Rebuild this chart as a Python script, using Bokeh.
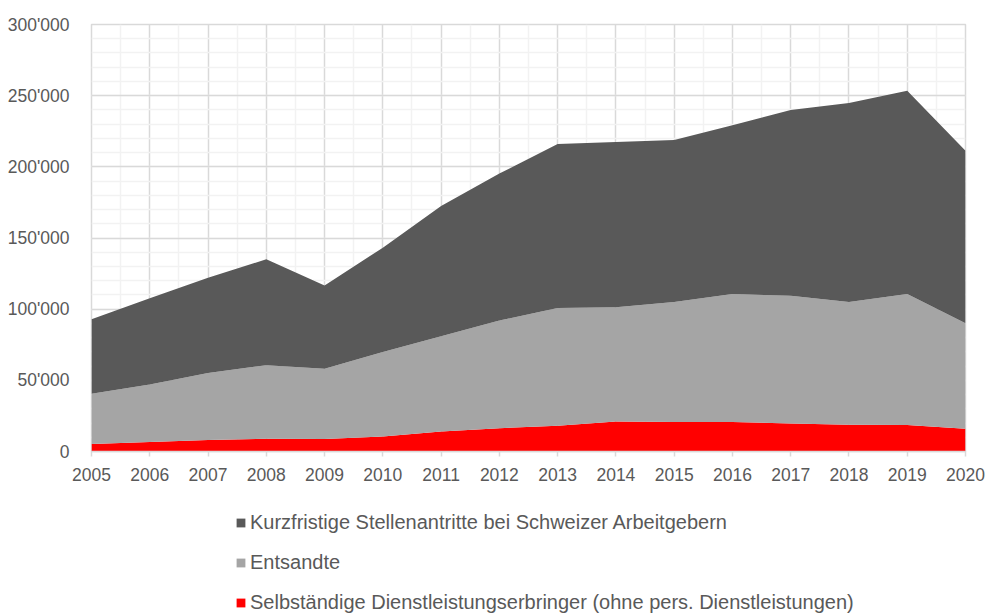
from bokeh.plotting import figure
from bokeh.layouts import column
from bokeh.models import (ColumnDataSource, Legend, LegendItem, FixedTicker,
                          CustomJSTickFormatter, Range1d)
from bokeh.embed import file_html
from bokeh.resources import INLINE

years = list(range(2005, 2021))
selbstaendige = [5200, 6600, 8000, 8900, 8700, 10600, 14100, 16400, 18100, 21100,
                 20700, 20700, 19700, 18800, 18600, 16000]
entsandte = [35400, 40400, 47200, 51700, 49500, 59300, 66900, 75600, 82800, 80300,
             84400, 89900, 89700, 86300, 92000, 74100]
kurzfristige = [52400, 60700, 66800, 74400, 58500, 73300, 91500, 103300, 115100, 116000,
                113700, 118700, 130500, 139700, 142900, 121200]
labels = ["Kurzfristige Stellenantritte bei Schweizer Arbeitgebern",
          "Entsandte",
          "Selbständige Dienstleistungserbringer (ohne pers. Dienstleistungen)"]
colors = {"kurz": "#595959", "ent": "#a5a5a5", "selb": "#ff0000"}
stack_keys = ["selb", "ent", "kurz"]

source = ColumnDataSource(dict(year=years, selb=selbstaendige, ent=entsandte, kurz=kurzfristige))

FONT = "Liberation Sans"
TEXT_COLOR = "#595959"

p = figure(frame_width=874, frame_height=427, output_backend="svg", toolbar_location=None,
           x_range=Range1d(2005, 2020), y_range=Range1d(0, 300000),
           min_border_left=91, min_border_right=21, min_border_top=24, min_border_bottom=37)

rs = p.varea_stack(stackers=stack_keys, x="year", source=source,
                   color=[colors[k] for k in stack_keys])

p.outline_line_color = "#d9d9d9"
p.outline_line_width = 1.5

p.xaxis.ticker = FixedTicker(ticks=years, minor_ticks=[y + 0.5 for y in years[:-1]])
p.yaxis.ticker = FixedTicker(ticks=list(range(0, 300001, 50000)),
                             minor_ticks=list(range(0, 300001, 10000)))
p.yaxis.formatter = CustomJSTickFormatter(code="""
return tick.toFixed(0).replace(/\\B(?=(\\d{3})+(?!\\d))/g, "'");
""")

for ax in (p.xaxis, p.yaxis):
    ax.major_label_text_font = FONT
    ax.major_label_text_font_size = "17.5px"
    ax.major_label_text_color = TEXT_COLOR
    ax.minor_tick_line_color = None

p.xaxis.axis_line_color = "#d9d9d9"
p.xaxis.axis_line_width = 1.5
p.xaxis.major_tick_line_color = "#d9d9d9"
p.xaxis.major_tick_line_width = 1.5
p.xaxis.major_tick_out = 5
p.xaxis.major_tick_in = 0
p.xaxis.major_label_standoff = 11
p.yaxis.axis_line_color = None
p.yaxis.major_tick_line_color = None
p.yaxis.major_label_standoff = 16

p.xgrid.grid_line_color = "#d9d9d9"
p.ygrid.grid_line_color = "#d9d9d9"
p.xgrid.minor_grid_line_color = "#f2f2f2"
p.ygrid.minor_grid_line_color = "#f2f2f2"
for g in (p.xgrid, p.ygrid):
    g.grid_line_width = 1.5
    g.minor_grid_line_width = 1.5

# legend panel below the chart (its ranges keep the stacked areas out of view,
# only the legend swatches and labels show)
pl = figure(width=986, height=126, output_backend="svg", toolbar_location=None,
            x_range=Range1d(0, 1), y_range=Range1d(0, 1),
            x_axis_type=None, y_axis_type=None, min_border=0)
pl.outline_line_color = None
pl.xgrid.visible = False
pl.ygrid.visible = False
sw = pl.varea_stack(stackers=stack_keys, x="year", source=source,
                    color=[colors[k] for k in stack_keys])

items = [LegendItem(label=labels[0], renderers=[sw[2]]),
         LegendItem(label=labels[1], renderers=[sw[1]]),
         LegendItem(label=labels[2], renderers=[sw[0]])]
legend = Legend(items=items, location=(144, 0), orientation="vertical",
                label_text_font=FONT, label_text_font_size="20px",
                label_text_color=TEXT_COLOR, glyph_width=11, glyph_height=11,
                label_standoff=4, spacing=17, label_height=20, padding=0, margin=0,
                border_line_color=None, background_fill_alpha=0)
pl.add_layout(legend, "center")

open("out.html", "w").write(file_html(column(p, pl, spacing=0), INLINE))
